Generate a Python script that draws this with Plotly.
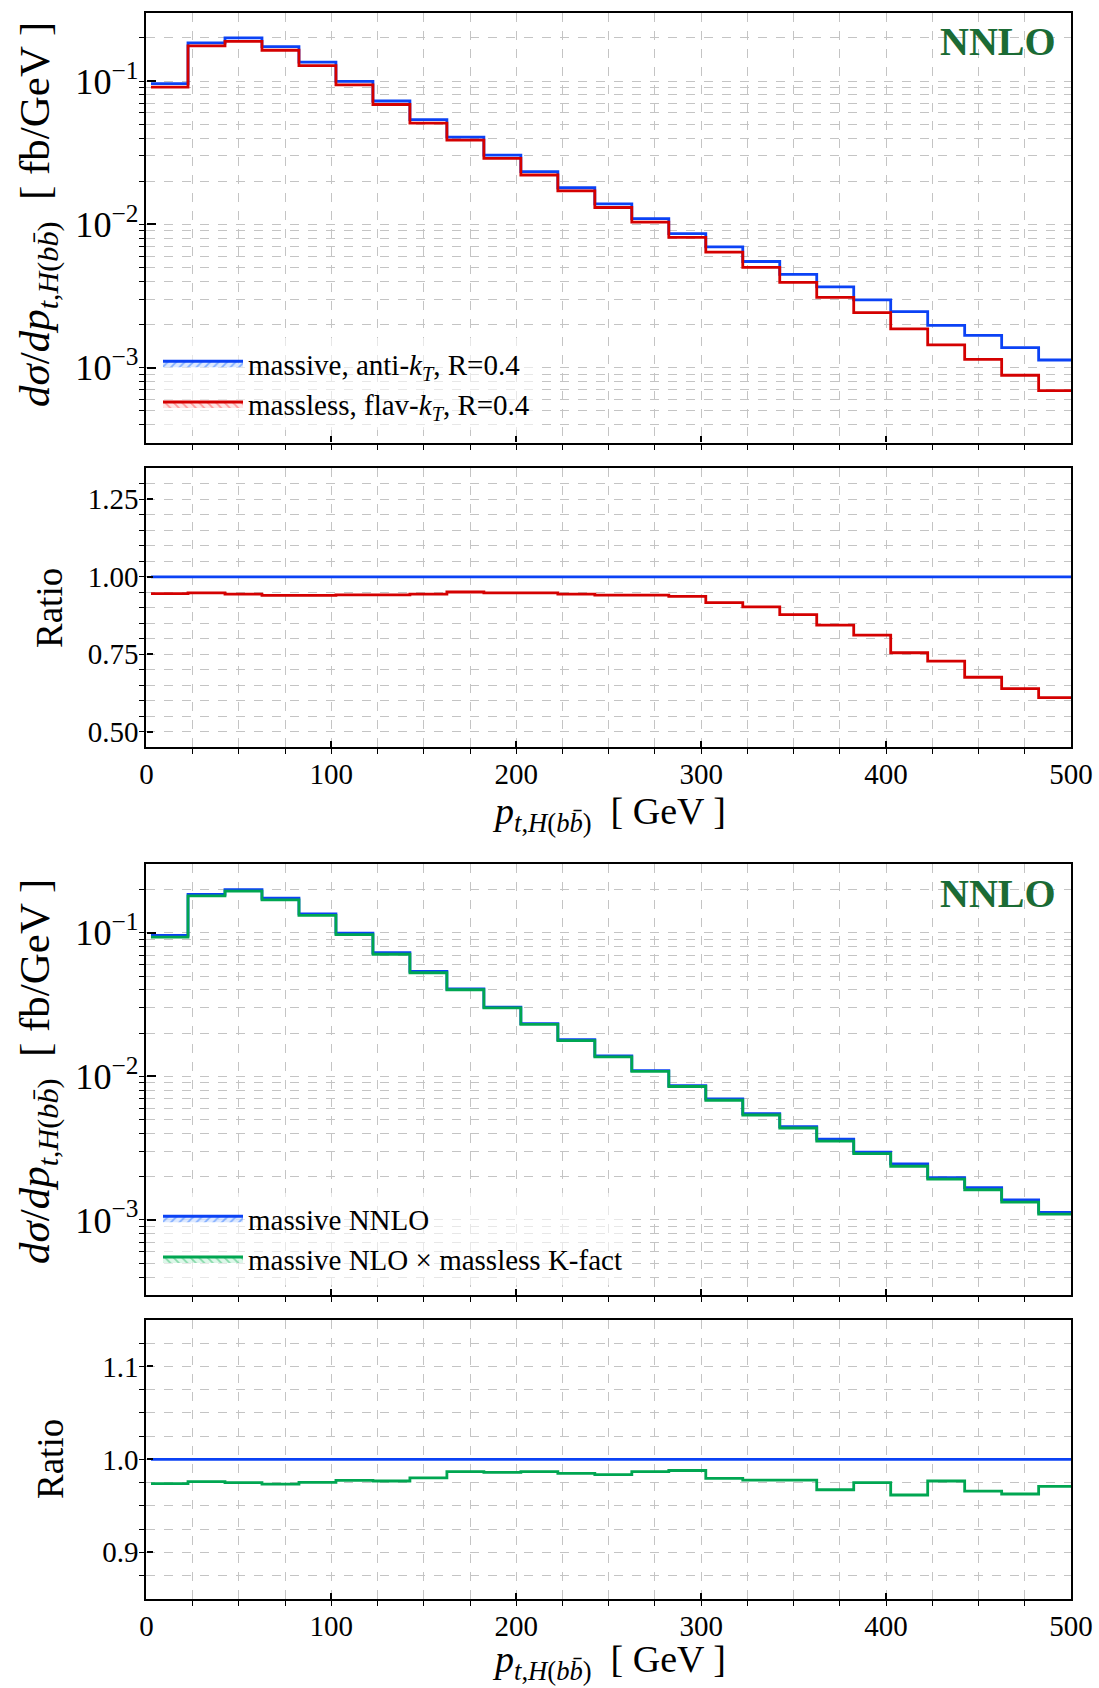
import plotly.graph_objects as go

# ---------------- data ----------------
bin_edges = [2.5, 22.5, 42.5, 62.5, 82.5, 102.5, 122.5, 142.5, 162.5, 182.5,
             202.5, 222.5, 242.5, 262.5, 282.5, 302.5, 322.5, 342.5, 362.5,
             382.5, 402.5, 422.5, 442.5, 462.5, 482.5, 502.5]

massive_nnlo = [0.0958, 0.185, 0.200, 0.174, 0.1356, 0.0995, 0.0726, 0.0538,
                0.0406, 0.0304, 0.0233, 0.0180, 0.0139, 0.01096, 0.0086,
                0.00696, 0.0055, 0.00447, 0.00366, 0.00297, 0.00246,
                0.00197, 0.00168, 0.00138, 0.00113]

massless_flavkt = [0.0906, 0.176, 0.189, 0.164, 0.128, 0.094, 0.0686, 0.0509,
                   0.0387, 0.0289, 0.0221, 0.0171, 0.0131, 0.01035, 0.0081,
                   0.0064, 0.0050, 0.00393, 0.00309, 0.00242, 0.00186,
                   0.00144, 0.00114, 0.000884, 0.00069]

massive_nlo_kfact = [0.0933, 0.1806, 0.195, 0.1693, 0.1322, 0.0972, 0.0709,
                     0.0527, 0.0401, 0.02997, 0.0230, 0.01773, 0.01367,
                     0.01082, 0.0085, 0.00682, 0.00538, 0.00437, 0.00354,
                     0.0029, 0.002366, 0.001925, 0.001623, 0.001329, 0.001097]

ratio_massive = [1.0, 1.0, 1.0, 1.0, 1.0, 1.0, 1.0, 1.0, 1.0, 1.0, 1.0, 1.0,
                 1.0, 1.0, 1.0, 1.0, 1.0, 1.0, 1.0, 1.0, 1.0, 1.0, 1.0, 1.0, 1.0]

ratio_massless = [0.946, 0.948, 0.944, 0.940, 0.940, 0.942, 0.942, 0.944,
                  0.951, 0.948, 0.948, 0.944, 0.941, 0.941, 0.937, 0.917,
                  0.903, 0.878, 0.844, 0.812, 0.755, 0.728, 0.676, 0.639, 0.610]

ratio_kfact = [0.9738, 0.976, 0.975, 0.9734, 0.9752, 0.9774, 0.9767, 0.980,
               0.9867, 0.986, 0.9867, 0.985, 0.9835, 0.9867, 0.988, 0.9795,
               0.9777, 0.9777, 0.9673, 0.975, 0.9616, 0.9767, 0.9659, 0.9627,
               0.971]

legend_top = ["massive, anti-<i>k</i><sub><i>T</i></sub>, R=0.4",
              "massless, flav-<i>k</i><sub><i>T</i></sub>, R=0.4"]
legend_bottom = ["massive NNLO", "massive NLO × massless K-fact"]

# ---------------- styling ----------------
FONT = "Liberation Serif"
BLUE = "#0b42f5"
RED = "#d40000"
GREEN = "#00a651"
GRID = "#c4c4c4"


def step(values):
    return values + [values[-1]]


fig = go.Figure()


def add_step(values, color, xa, ya):
    fig.add_trace(go.Scatter(
        x=bin_edges, y=step(values), mode="lines", line_shape="hv",
        line=dict(color=color, width=2.8), showlegend=False,
        xaxis=xa, yaxis=ya, hoverinfo="skip"))


def add_legend_item(name, color, fill, fg, shape, legend):
    fig.add_trace(go.Scatter(
        x=[None], y=[None], mode="lines", name=name, fill="toself",
        fillcolor=fill,
        fillpattern=dict(shape=shape, fgcolor=fg, bgcolor=fill, size=6,
                         solidity=0.3),
        line=dict(color=color, width=3), legend=legend,
        xaxis="x", yaxis="y"))


# top main
add_step(massive_nnlo, BLUE, "x", "y")
add_step(massless_flavkt, RED, "x", "y")
# top ratio
add_step(ratio_massive, BLUE, "x2", "y2")
add_step(ratio_massless, RED, "x2", "y2")
# bottom main
add_step(massive_nnlo, BLUE, "x3", "y3")
add_step(massive_nlo_kfact, GREEN, "x3", "y3")
# bottom ratio
add_step(ratio_massive, BLUE, "x4", "y4")
add_step(ratio_kfact, GREEN, "x4", "y4")

add_legend_item(legend_top[0], BLUE, "rgba(170,200,255,0.4)",
                "rgba(30,110,255,0.95)", "/", "legend")
add_legend_item(legend_top[1], RED, "rgba(255,190,190,0.4)",
                "rgba(255,70,70,0.95)", "\\", "legend")
add_legend_item(legend_bottom[0], BLUE, "rgba(170,200,255,0.4)",
                "rgba(30,110,255,0.95)", "/", "legend2")
add_legend_item(legend_bottom[1], GREEN, "rgba(170,235,200,0.4)",
                "rgba(40,185,100,0.95)", "\\", "legend2")

W, H = 1099, 1688
x_dom = [146.4 / W, 1071.0 / W]


def ydom(top_px, bot_px):
    return [1 - bot_px / H, 1 - top_px / H]


tickfont = dict(family=FONT, size=29, color="black")


def xaxis(dom_y_anchor, labels):
    return dict(
        domain=x_dom, anchor=dom_y_anchor, range=[0, 500], automargin=False,
        tick0=0, dtick=100, ticks="inside", ticklen=6, tickwidth=1.5,
        tickcolor="black", showticklabels=labels, tickfont=tickfont,
        showline=True, linecolor="black", linewidth=2.2, mirror=True,
        showgrid=True, gridcolor=GRID, griddash="dash", gridwidth=1,
        zeroline=False,
        minor=dict(dtick=25, tick0=0, ticks="outside", ticklen=5,
                   tickwidth=1.2, tickcolor="black", showgrid=True,
                   gridcolor=GRID, griddash="dash", gridwidth=1))


def main_yaxis(dom, anchor):
    return dict(
        domain=dom, anchor=anchor, type="log", automargin=False,
        range=[-3.5229, -0.5229], dtick=1, exponentformat="power",
        ticks="inside", ticklen=9, tickwidth=2, tickcolor="black",
        tickfont=tickfont, showline=True, linecolor="black", linewidth=2.2,
        mirror=True, showgrid=True, gridcolor=GRID, griddash="dash",
        gridwidth=1, zeroline=False,
        minor=dict(dtick="D1", ticks="outside", ticklen=5, tickwidth=1.2,
                   tickcolor="black", showgrid=True, gridcolor=GRID,
                   griddash="dash", gridwidth=1))


def ratio_yaxis(dom, anchor, rng, dtick, tick0, fmt, minor_dtick):
    return dict(
        domain=dom, anchor=anchor, range=rng, dtick=dtick, tick0=tick0,
        automargin=False,
        tickformat=fmt, ticks="inside", ticklen=6, tickwidth=1.5,
        tickcolor="black", tickfont=tickfont, showline=True,
        linecolor="black", linewidth=2.2, mirror=True, showgrid=True,
        gridcolor=GRID, griddash="dash", gridwidth=1, zeroline=False,
        minor=dict(dtick=minor_dtick, tick0=tick0, ticks="outside",
                   ticklen=5, tickwidth=1.2, tickcolor="black",
                   showgrid=True, gridcolor=GRID, griddash="dash",
                   gridwidth=1))


ytitle = ("<i>dσ</i>/<i>dp</i><sub><i>t</i>,<i>H</i>(<i>b</i><i>b̄</i>)</sub>"
          "  [ fb/GeV ]")
xtitle = "<i>p</i><sub><i>t</i>,<i>H</i>(<i>b</i><i>b̄</i>)</sub>  [ GeV ]"

ann = []


def text(x, y, t, size, angle=0, xanchor="center", color="black", bold=False):
    ann.append(dict(
        x=x, y=y, xref="paper", yref="paper", text=("<b>%s</b>" % t) if bold else t,
        showarrow=False, textangle=angle, xanchor=xanchor, yanchor="middle",
        font=dict(family=FONT, size=size, color=color)))


text(1058 / W, 1 - 42 / H, "NNLO", 40, xanchor="right", color="#1b6b35", bold=True)
text(1058 / W, 1 - 893 / H, "NNLO", 40, xanchor="right", color="#1b6b35", bold=True)
text(38 / W, 1 - 215 / H, ytitle, 43, angle=-90)
text(38 / W, 1 - 1072 / H, ytitle, 43, angle=-90)
text(50 / W, 1 - 608 / H, "Ratio", 37, angle=-90)
text(50 / W, 1 - 1459 / H, "Ratio", 37, angle=-90)
text(608.7 / W, 1 - 814 / H, xtitle, 38)
text(608.7 / W, 1 - 1662 / H, xtitle, 38)

legend_common = dict(
    xanchor="left", yanchor="top", bgcolor="rgba(255,255,255,0.6)",
    font=dict(family=FONT, size=29, color="black"), itemwidth=80,
    tracegroupgap=2, borderwidth=0)

fig.update_layout(
    width=W, height=H, margin=dict(l=0, r=0, t=0, b=0, autoexpand=False),
    paper_bgcolor="white", plot_bgcolor="white",
    font=dict(family=FONT, color="black"),
    xaxis=xaxis("y", False),
    xaxis2=xaxis("y2", True),
    xaxis3=xaxis("y3", False),
    xaxis4=xaxis("y4", True),
    yaxis=main_yaxis(ydom(12.7, 442.5), "x"),
    yaxis2=ratio_yaxis(ydom(468.3, 747.3), "x2", [0.45, 1.35], 0.25, 0.5,
                       ".2f", 0.05),
    yaxis3=main_yaxis(ydom(864.3, 1295.0), "x3"),
    yaxis4=ratio_yaxis(ydom(1320.0, 1598.7), "x4", [0.85, 1.15], 0.1, 0.9,
                       ".1f", 0.025),
    legend=dict(x=158 / W, y=1 - 338 / H, **legend_common),
    legend2=dict(x=158 / W, y=1 - 1193 / H, **legend_common),
    annotations=ann,
)

fig.write_html("out.html")
